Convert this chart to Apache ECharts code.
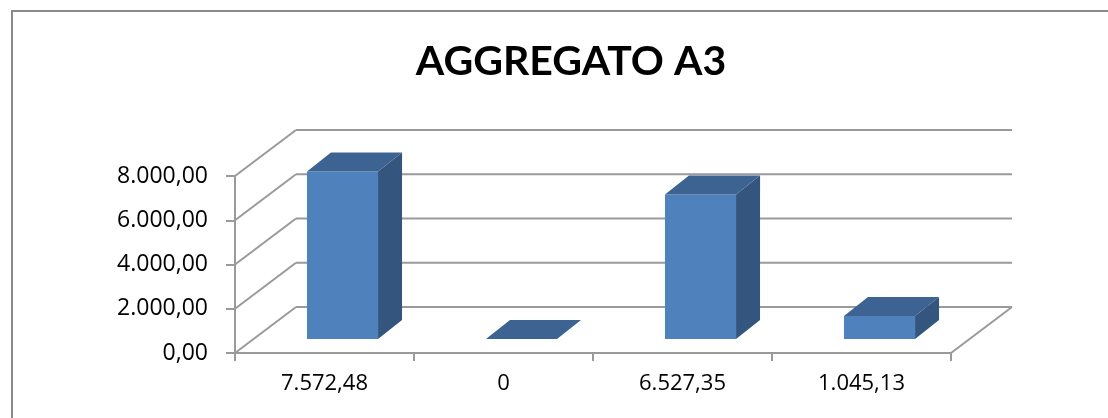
<!DOCTYPE html>
<html>
<head>
<meta charset="utf-8">
<script src="https://cdn.jsdelivr.net/npm/echarts@6/dist/echarts.min.js"></script>
<style>html,body{margin:0;padding:0;background:#fff;}#c{width:1108px;height:418px;}</style>
</head>
<body>
<div id="c"></div>
<script>
const TITLE = 'AGGREGATO A3';
const CATEGORIES = ['7.572,48', '0', '6.527,35', '1.045,13'];
const VALUES = [7572.48, 0, 6527.35, 1045.13];
const Y_TICKS = [0, 2000, 4000, 6000, 8000];

function fmtIt(v) {
  const s = v.toFixed(2).split('.');
  return s[0].replace(/\B(?=(\d{3})+(?!\d))/g, '.') + ',' + s[1];
}

const GRID_COLOR = '#9a9a9a';
const WALL_DX = 61, WALL_DY = -46;   // depth of the chart box
const FACE_DX = 18, FACE_DY = -14;   // bar front face offset
const BAR_DX = 24, BAR_DY = -19;     // bar depth
const BAR_FRAC = 0.397;
const LABEL_FONT = '"Open Sans", Lato, sans-serif';

const chart = echarts.init(document.getElementById('c'), null, {renderer: 'canvas'});

const option = {
  backgroundColor: '#ffffff',
  animation: false,
  graphic: [
    {type: 'rect', shape: {x: 12, y: 11, width: 1300, height: 700},
     style: {fill: 'none', stroke: '#8a8a8a', lineWidth: 2}, z: -10},
    {type: 'text', x: 571, y: 62,
     style: {text: TITLE, fill: '#000', font: 'bold 41px Lato, "Open Sans", sans-serif',
             textAlign: 'center', textVerticalAlign: 'middle'}}
  ],
  grid: {left: 235, top: 176, width: 716, height: 177, containLabel: false},
  xAxis: {
    type: 'category', data: CATEGORIES,
    axisLine: {show: true, lineStyle: {color: GRID_COLOR, width: 2}},
    axisTick: {show: true, length: 8, lineStyle: {color: GRID_COLOR, width: 2}},
    axisLabel: {color: '#000', fontFamily: LABEL_FONT, fontSize: 22, margin: 20},
    splitLine: {show: false}
  },
  yAxis: {
    type: 'value', min: 0, max: 8000, interval: 2000,
    axisLine: {show: true, lineStyle: {color: GRID_COLOR, width: 2}},
    axisTick: {show: true, length: 9, lineStyle: {color: GRID_COLOR, width: 2}},
    axisLabel: {color: '#000', fontFamily: LABEL_FONT, fontSize: 23, margin: 27,
                padding: [4, 0, 0, 0], formatter: v => fmtIt(v)},
    splitLine: {show: false}
  },
  series: [
    {
      type: 'custom', name: 'walls', z: 1, silent: true,
      data: Y_TICKS.map(v => [0, v]),
      renderItem(params, api) {
        const v = api.value(1);
        const bw = api.size([1, 0])[0];
        const p = api.coord([0, v]);
        const pr = api.coord([CATEGORIES.length - 1, v]);
        const xl = p[0] - bw / 2, xr = pr[0] + bw / 2, y = p[1];
        const st = {stroke: GRID_COLOR, lineWidth: 2, fill: 'none'};
        const children = [
          {type: 'line', shape: {x1: xl, y1: y, x2: xl + WALL_DX, y2: y + WALL_DY}, style: st},
          {type: 'line', shape: {x1: xl + WALL_DX, y1: y + WALL_DY, x2: xr + WALL_DX, y2: y + WALL_DY}, style: st}
        ];
        if (v === 0) {
          children.push({type: 'line', shape: {x1: xr, y1: y, x2: xr + WALL_DX, y2: y + WALL_DY}, style: st});
        }
        return {type: 'group', children};
      }
    },
    {
      type: 'custom', name: 'AGGREGATO A3', z: 5,
      data: VALUES.map((v, i) => [i, v]),
      renderItem(params, api) {
        const i = api.value(0), v = api.value(1);
        const base = api.coord([i, 0]);
        const top = api.coord([i, v]);
        const bw = api.size([1, 0])[0];
        const w = bw * BAR_FRAC;
        const x0 = base[0] - w / 2 + FACE_DX, x1 = x0 + w;
        const yb = base[1] + FACE_DY, yt = top[1] + FACE_DY;
        const children = [];
        if (yb - yt > 0.5) {
          children.push({type: 'polygon', shape: {points: [[x1, yt], [x1 + BAR_DX, yt + BAR_DY], [x1 + BAR_DX, yb + BAR_DY], [x1, yb]]},
                         style: {fill: '#34557e'}});
          children.push({type: 'rect', shape: {x: x0, y: yt, width: w, height: yb - yt},
                         style: {fill: '#4f81bd'}});
        }
        children.push({type: 'polygon', shape: {points: [[x0, yt], [x1, yt], [x1 + BAR_DX, yt + BAR_DY], [x0 + BAR_DX, yt + BAR_DY]]},
                       style: {fill: '#3c6391'}});
        return {type: 'group', children};
      }
    }
  ]
};
chart.setOption(option);
</script>
</body>
</html>
